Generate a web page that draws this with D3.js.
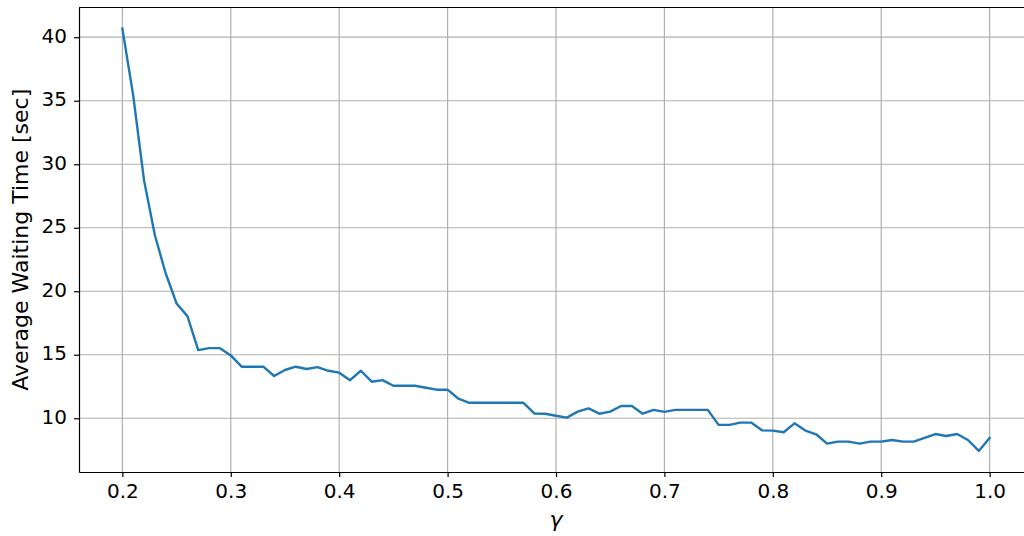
<!DOCTYPE html>
<html>
<head>
<meta charset="utf-8">
<script src="https://cdn.jsdelivr.net/npm/d3@7"></script>
<style>
  body { margin: 0; background: #fff; }
  svg { display: block; font-family: 'DejaVu Sans', sans-serif; }
</style>
</head>
<body>
<div class="chart-panel"></div>
<script>
// gamma values 0.20 .. 1.00, step 0.01
const gammas = d3.range(20, 101).map(function (i) { return i / 100 })

// average waiting time [sec]
const waitTimes = [
  40.68, 35.42, 28.73, 24.41, 21.4, 19.04, 18.04, 15.37, 15.52, 15.52,
  14.95, 14.06, 14.06, 14.06, 13.33, 13.8, 14.06, 13.88, 14.03, 13.74,
  13.59, 13.0, 13.74, 12.88, 13.0, 12.56, 12.56, 12.56, 12.4, 12.25,
  12.25, 11.54, 11.22, 11.22, 11.22, 11.22, 11.22, 11.22, 10.38, 10.36,
  10.2, 10.05, 10.52, 10.78, 10.36, 10.52, 10.97, 10.97, 10.36, 10.66,
  10.5, 10.66, 10.66, 10.66, 10.66, 9.48, 9.48, 9.66, 9.66, 9.05,
  9.03, 8.9, 9.6, 9.03, 8.74, 8.0, 8.16, 8.16, 8.0, 8.16,
  8.16, 8.29, 8.16, 8.16, 8.45, 8.76, 8.6, 8.76, 8.29, 7.43,
  8.45
]

const xTicks = [0.2, 0.3, 0.4, 0.5, 0.6, 0.7, 0.8, 0.9, 1.0]
const yTicks = [10, 15, 20, 25, 30, 35, 40]

const W = 1024
const H = 536
const plot = { left: 79, right: 1033, top: 7.5, bottom: 472 }

const svg = d3.select('.chart-panel').append('svg')
  .attr('width', W)
  .attr('height', H)

const x = d3.scaleLinear()
  .domain([0.16, 1.04])
  .range([plot.left, plot.right])

const y = d3.scaleLinear()
  .domain([5.77, 42.34])
  .range([plot.bottom, plot.top])

const data = gammas.map(function (g, i) { return { g: g, v: waitTimes[i] } })

// grid
const grid = svg.append('g').attr('class', 'grid')
grid.selectAll('.gx')
  .data(xTicks)
  .enter().append('line')
    .attr('x1', function (d) { return x(d) })
    .attr('x2', function (d) { return x(d) })
    .attr('y1', plot.top)
    .attr('y2', plot.bottom)
    .attr('stroke', '#b0b0b0')
    .attr('stroke-width', 1.2)
grid.selectAll('.gy')
  .data(yTicks)
  .enter().append('line')
    .attr('x1', plot.left)
    .attr('x2', plot.right)
    .attr('y1', function (d) { return y(d) })
    .attr('y2', function (d) { return y(d) })
    .attr('stroke', '#b0b0b0')
    .attr('stroke-width', 1.2)

// line
const line = d3.line()
  .x(function (d) { return x(d.g) })
  .y(function (d) { return y(d.v) })

svg.append('path')
  .datum(data)
  .attr('fill', 'none')
  .attr('stroke', '#1f77b4')
  .attr('stroke-width', 2.4)
  .attr('stroke-linejoin', 'round')
  .attr('stroke-linecap', 'square')
  .attr('d', line)

// axes
const xAxis = svg.append('g')
  .attr('transform', 'translate(0,' + plot.bottom + ')')
  .call(d3.axisBottom(x).tickValues(xTicks).tickFormat(d3.format('.1f'))
    .tickSizeInner(5).tickSizeOuter(0).tickPadding(7))
xAxis.select('.domain').attr('stroke-width', 1.2)
xAxis.selectAll('.tick line').attr('stroke-width', 1.2)
xAxis.selectAll('.tick text').attr('font-size', 20).attr('fill', '#000')
  .attr('font-family', 'DejaVu Sans')

const yAxis = svg.append('g')
  .attr('transform', 'translate(' + plot.left + ',0)')
  .call(d3.axisLeft(y).tickValues(yTicks)
    .tickSizeInner(5).tickSizeOuter(0).tickPadding(7))
yAxis.select('.domain').attr('stroke-width', 1.2)
yAxis.selectAll('.tick line').attr('stroke-width', 1.2)
yAxis.selectAll('.tick text').attr('font-size', 20).attr('fill', '#000')
  .attr('font-family', 'DejaVu Sans').attr('dy', '0.25em')

// top spine
svg.append('line')
  .attr('x1', plot.left).attr('x2', plot.right)
  .attr('y1', plot.top).attr('y2', plot.top)
  .attr('stroke', '#000').attr('stroke-width', 1.2)

// labels
svg.append('text')
  .attr('x', x(0.6))
  .attr('y', 527)
  .attr('text-anchor', 'middle')
  .attr('font-size', 22)
  .attr('font-style', 'italic')
  .text('γ')

svg.append('text')
  .attr('transform', 'translate(28,' + ((plot.top + plot.bottom) / 2) + ') rotate(-90)')
  .attr('text-anchor', 'middle')
  .attr('font-size', 22)
  .text('Average Waiting Time [sec]')
</script>
</body>
</html>
